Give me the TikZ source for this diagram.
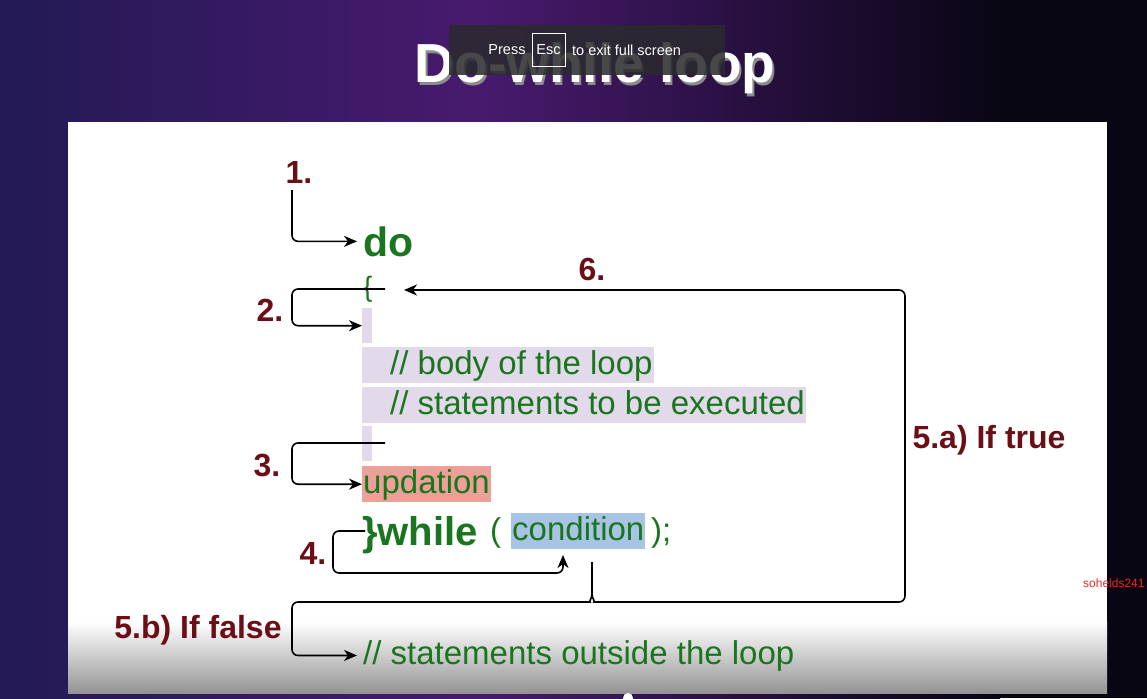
\documentclass[tikz,border=0pt]{standalone}
\usepackage{fontspec}
\setmainfont{Liberation Sans}
\usetikzlibrary{arrows.meta,calc}

\definecolor{codegreen}{RGB}{26,118,30}
\definecolor{labelred}{RGB}{108,14,22}
\definecolor{bodylav}{RGB}{226,217,234}
\definecolor{updpink}{RGB}{236,160,152}
\definecolor{condblue}{RGB}{168,196,228}
\definecolor{bgleft}{RGB}{34,26,84}
\definecolor{bgmid}{RGB}{72,26,110}
\definecolor{bgright}{RGB}{9,6,20}
\definecolor{toastgray}{RGB}{42,42,46}
\definecolor{markred}{RGB}{232,40,40}

\tikzset{
  wire/.style={line width=1.6pt, black, rounded corners=6pt},
  flow/.style={wire, -{Stealth[length=13pt,width=11pt,inset=4pt]}},
  steplabel/.style={font=\fontsize{32}{36}\selectfont\bfseries, text=labelred, inner sep=0pt},
  code/.style={font=\fontsize{33}{38}\selectfont, text=codegreen, inner sep=0pt, anchor=base west},
  keyword/.style={font=\fontsize{40}{46}\selectfont\bfseries, text=codegreen, inner sep=0pt, anchor=base west},
  hilite/.style={font=\fontsize{33}{38}\selectfont, text=codegreen, inner xsep=1pt, inner ysep=0pt,
                 text height=27pt, text depth=9pt, anchor=north west},
  bodybar/.style={fill=bodylav, minimum width=10pt, minimum height=35pt, inner sep=0pt, anchor=north west},
  toast/.style={font=\fontsize{14.5}{17}\selectfont, text=white, inner sep=0pt}
}

\begin{document}
\begin{tikzpicture}[x=1pt, y=-1pt]
    \useasboundingbox (0,0) rectangle (1147,698);

    % background of the slide
    \shade[left color=bgleft, right color=bgmid] (0,0) rectangle (480,698);
    \shade[left color=bgmid, right color=bgright] (480,0) rectangle (1000,698);
    \fill[bgright] (1000,0) rectangle (1147,698);

    \node[font=\fontsize{55}{60}\selectfont\bfseries, text=black!45, anchor=base] (titleshadow) at (597,86) {Do-while loop};
    \node[font=\fontsize{55}{60}\selectfont\bfseries, text=white, anchor=base] (title) at (595,83) {Do-while loop};

    % white panel, fading to grey at the bottom
    \fill[white] (68,122) rectangle (1107,693);
    \shade[top color=white, bottom color=black!42] (68,622) rectangle (1107,693);

    % code
    \node[keyword, font=\fontsize{41}{46}\selectfont\bfseries] (do) at (363,256) {do};
    \node[code, font=\fontsize{28}{32}\selectfont] (lbrace) at (363,296) {\{};
    \node[bodybar] (bar1) at (362,308) {};
    \node[hilite, fill=bodylav] (body) at (362,347) {\hspace{27pt}// body of the loop};
    \node[hilite, fill=bodylav] (stmts) at (362,387) {\hspace{27pt}// statements to be executed};
    \node[bodybar] (bar2) at (362,426) {};
    \node[hilite, fill=updpink] (upd) at (362,466) {updation};
    \node[keyword] (while) at (362,545) {\}while};
    \node[code] (lparen) at (490,541) {(};
    \node[hilite, fill=condblue] (cond) at (511,513) {condition};
    \node[code] (rparen) at (651,541) {);};
    \node[code] (outside) at (363,664) {// statements outside the loop};

    % step labels
    \node[steplabel] (one) at (299,172) {1.};
    \node[steplabel] (two) at (270,310) {2.};
    \node[steplabel] (three) at (267,466) {3.};
    \node[steplabel] (four) at (313,553) {4.};
    \node[steplabel] (fivea) at (989,440) {5.a) If true};
    \node[steplabel] (fiveb) at (198,630) {5.b) If false};
    \node[steplabel] (six) at (592,269) {6.};

    % arrows
    \coordinate (s1) at (292,190);
    \coordinate (s2) at (385,289);
    \coordinate (s3) at (385,443);
    \coordinate (s4) at (365,531);
    \coordinate (t4) at (563,555);
    \coordinate (fork) at (592,562);
    \coordinate (t6) at (404,290);

    \draw[flow] (s1) |- ([xshift=-6pt]do.west);
    \draw[flow] (s2) -- (292,289) |- (bar1.west);
    \draw[flow] (s3) -- (292,443) |- (upd.west);
    \draw[flow] (s4) -- (333,531) |- (563,573) -- (t4);
    \draw[wire] (fork) -- (592,594);
    \draw[flow] (592,594) to[out=-90,in=0] (584,602) -- (292,602) |- ([xshift=-6pt]outside.west);
    \draw[flow] (592,594) to[out=-90,in=180] (600,602) -- (905,602) -- (905,290) -- (t6);

    % full screen notice
    \fill[toastgray, fill opacity=0.86] (449,25) rectangle (725,75);
    \node[toast] (press) at (507,50) {Press};
    \node[toast, draw=white, line width=0.8pt, minimum width=33pt, minimum height=33pt] (esc) at (548.5,49.5) {Esc};
    \node[toast, anchor=west] (exit) at (572,50) {to exit full screen};

    \node[font=\fontsize{12}{14}\selectfont, text=markred, anchor=west, inner sep=0pt] (mark) at (1083,583) {sohelds241};
    \fill[white] (628,698) circle (5);

\end{tikzpicture}
\end{document}
